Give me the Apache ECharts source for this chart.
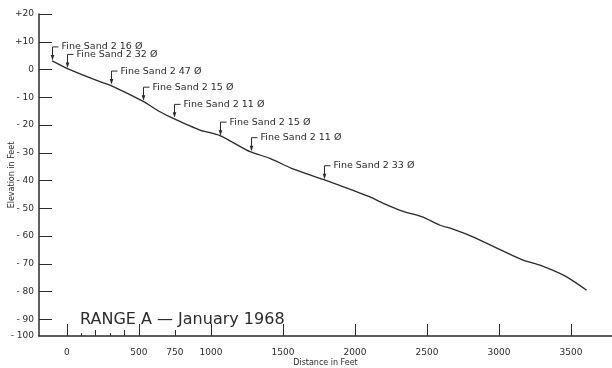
<!DOCTYPE html>
<html>
<head>
<meta charset="utf-8">
<script src="https://cdn.jsdelivr.net/npm/echarts@6/dist/echarts.min.js"></script>
<style>
  html, body { margin: 0; padding: 0; background: #fff; }
  #chart { width: 612px; height: 368px; }
</style>
</head>
<body>
<div id="chart"></div>
<script>
// Surveyed bottom profile along the range (distance in ft, elevation in ft)
const profileDistance  = [-102, 0, 229, 299, 530, 646, 738, 924, 1063, 1271, 1410, 1560, 1780, 1987, 2104, 2197, 2335, 2473, 2590, 2681, 2819, 3167, 3285, 3470, 3609];
const profileElevation = [3.1, 0.4, -4.4, -5.6, -11.5, -15.2, -17.6, -21.8, -23.8, -29.6, -32.0, -35.6, -39.6, -43.5, -45.9, -48.2, -51.1, -53.2, -56.1, -57.5, -60.3, -68.7, -70.5, -74.7, -79.5];

// Sediment samples taken along the profile
const sampleDistance  = [-102, 0, 306, 529, 745, 1063, 1276, 1787];
const sampleElevation = [3.1, 0.4, -5.6, -11.4, -17.6, -24.0, -29.6, -39.7];
const sampleLabels = [
  'Fine Sand 2 16 Ø', 'Fine Sand 2 32 Ø', 'Fine Sand 2 47 Ø', 'Fine Sand 2 15 Ø',
  'Fine Sand 2 11 Ø', 'Fine Sand 2 15 Ø', 'Fine Sand 2 11 Ø', 'Fine Sand 2 33 Ø'
];

// Distance axis ticks
const distanceLabelValues = [0, 500, 750, 1000, 1500, 2000, 2500, 3000, 3500];
const distanceLabels = ['0', '500', '750', '1000', '1500', '2000', '2500', '3000', '3500'];
const distanceMajorTicks = [0, 500, 1000, 1500, 2000, 2500, 3000, 3500];
const distanceMediumTicks = [200, 400, 750];
const distanceSmallTicks = [100, 300];

// Elevation axis ticks
const elevationTicks = [20, 10, 0, -10, -20, -30, -40, -50, -60, -70, -80, -90];
const elevationLabels = ['+20', '+10', '0', '- 10', '- 20', '- 30', '- 40', '- 50', '- 60', '- 70', '- 80', '- 90'];
const elevationBaseLabel = '- 100';

const xMin = -194, xMax = 3785;
const yMin = -96, yMax = 20;

const INK = '#2b2b2b';
const FONT = 'DejaVu Sans';

function extraDistanceAxis(values, len) {
  return {
    type: 'value', min: xMin, max: xMax, position: 'bottom',
    axisLine: { show: false, onZero: false },
    splitLine: { show: false },
    axisLabel: { show: false },
    axisTick: { show: true, inside: true, length: len, customValues: values,
                lineStyle: { color: INK, width: 1 } }
  };
}

const chart = echarts.init(document.getElementById('chart'), null, { renderer: 'canvas' });

chart.setOption({
  backgroundColor: '#fff',
  animation: false,
  grid: { left: 39, right: 0, top: 14, bottom: 32, containLabel: false, outerBoundsMode: 'none' },
  xAxis: [
    {
      type: 'value', min: xMin, max: xMax, position: 'bottom',
      name: 'Distance in Feet', nameLocation: 'middle', nameGap: 23, nameMoveOverlap: false,
      nameTextStyle: { fontFamily: FONT, fontSize: 8, color: INK, letterSpacing: 0.6 },
      axisLine: { show: true, onZero: false, lineStyle: { color: INK, width: 1.5 } },
      splitLine: { show: false },
      axisTick: { show: true, inside: true, length: 12, customValues: distanceMajorTicks,
                  lineStyle: { color: INK, width: 1 } },
      axisLabel: {
        customValues: distanceLabelValues, margin: 12,
        fontFamily: FONT, fontSize: 9, color: INK,
        formatter: v => distanceLabels[distanceLabelValues.indexOf(v)] ?? ''
      }
    },
    extraDistanceAxis(distanceMediumTicks, 6),
    extraDistanceAxis(distanceSmallTicks, 3)
  ],
  yAxis: {
    type: 'value', min: yMin, max: yMax, position: 'left',
    name: 'Elevation in Feet', nameLocation: 'middle', nameGap: 23, nameRotate: 90, nameMoveOverlap: false,
    nameTextStyle: { fontFamily: FONT, fontSize: 8, color: INK, letterSpacing: 0.6 },
    axisLine: { show: true, onZero: false, lineStyle: { color: INK, width: 1.5 } },
    splitLine: { show: false },
    axisTick: { show: true, inside: true, length: 13, customValues: elevationTicks,
                lineStyle: { color: INK, width: 1 } },
    axisLabel: {
      customValues: elevationTicks.concat([yMin]), margin: 5,
      fontFamily: FONT, fontSize: 9, color: INK,
      formatter: v => v === yMin ? elevationBaseLabel : (elevationLabels[elevationTicks.indexOf(v)] ?? '')
    }
  },
  graphic: [{
    type: 'text', left: 80, top: 312,
    style: { text: 'RANGE A — January 1968', fontFamily: FONT, fontSize: 16, fill: INK, letterSpacing: 0.4 }
  }],
  series: [
    {
      type: 'line', xAxisIndex: 0,
      data: profileDistance.map((d, i) => [d, profileElevation[i]]),
      smooth: 0.2, symbol: 'none',
      lineStyle: { color: INK, width: 1.3 }
    },
    {
      type: 'custom', xAxisIndex: 0, clip: false,
      data: sampleDistance.map((d, i) => [d, sampleElevation[i], i]),
      renderItem(params, api) {
        const p = api.coord([api.value(0), api.value(1)]);
        const x = Math.round(p[0]) + 0.5;
        const y = p[1];
        const top = y - 14;
        return {
          type: 'group',
          children: [
            { type: 'line', shape: { x1: x, y1: top, x2: x, y2: y - 4 },
              style: { stroke: INK, lineWidth: 1 } },
            { type: 'polygon', shape: { points: [[x - 1.8, y - 6], [x + 1.8, y - 6], [x, y - 0.5]] },
              style: { fill: INK } },
            { type: 'line', shape: { x1: x, y1: top, x2: x + 6, y2: top },
              style: { stroke: INK, lineWidth: 1 } },
            { type: 'text',
              style: { x: x + 9, y: top, text: sampleLabels[api.value(2)],
                       fontFamily: FONT, fontSize: 9.5, fill: INK, verticalAlign: 'middle',
                       letterSpacing: 0.4 } }
          ]
        };
      }
    }
  ]
});
</script>
</body>
</html>
